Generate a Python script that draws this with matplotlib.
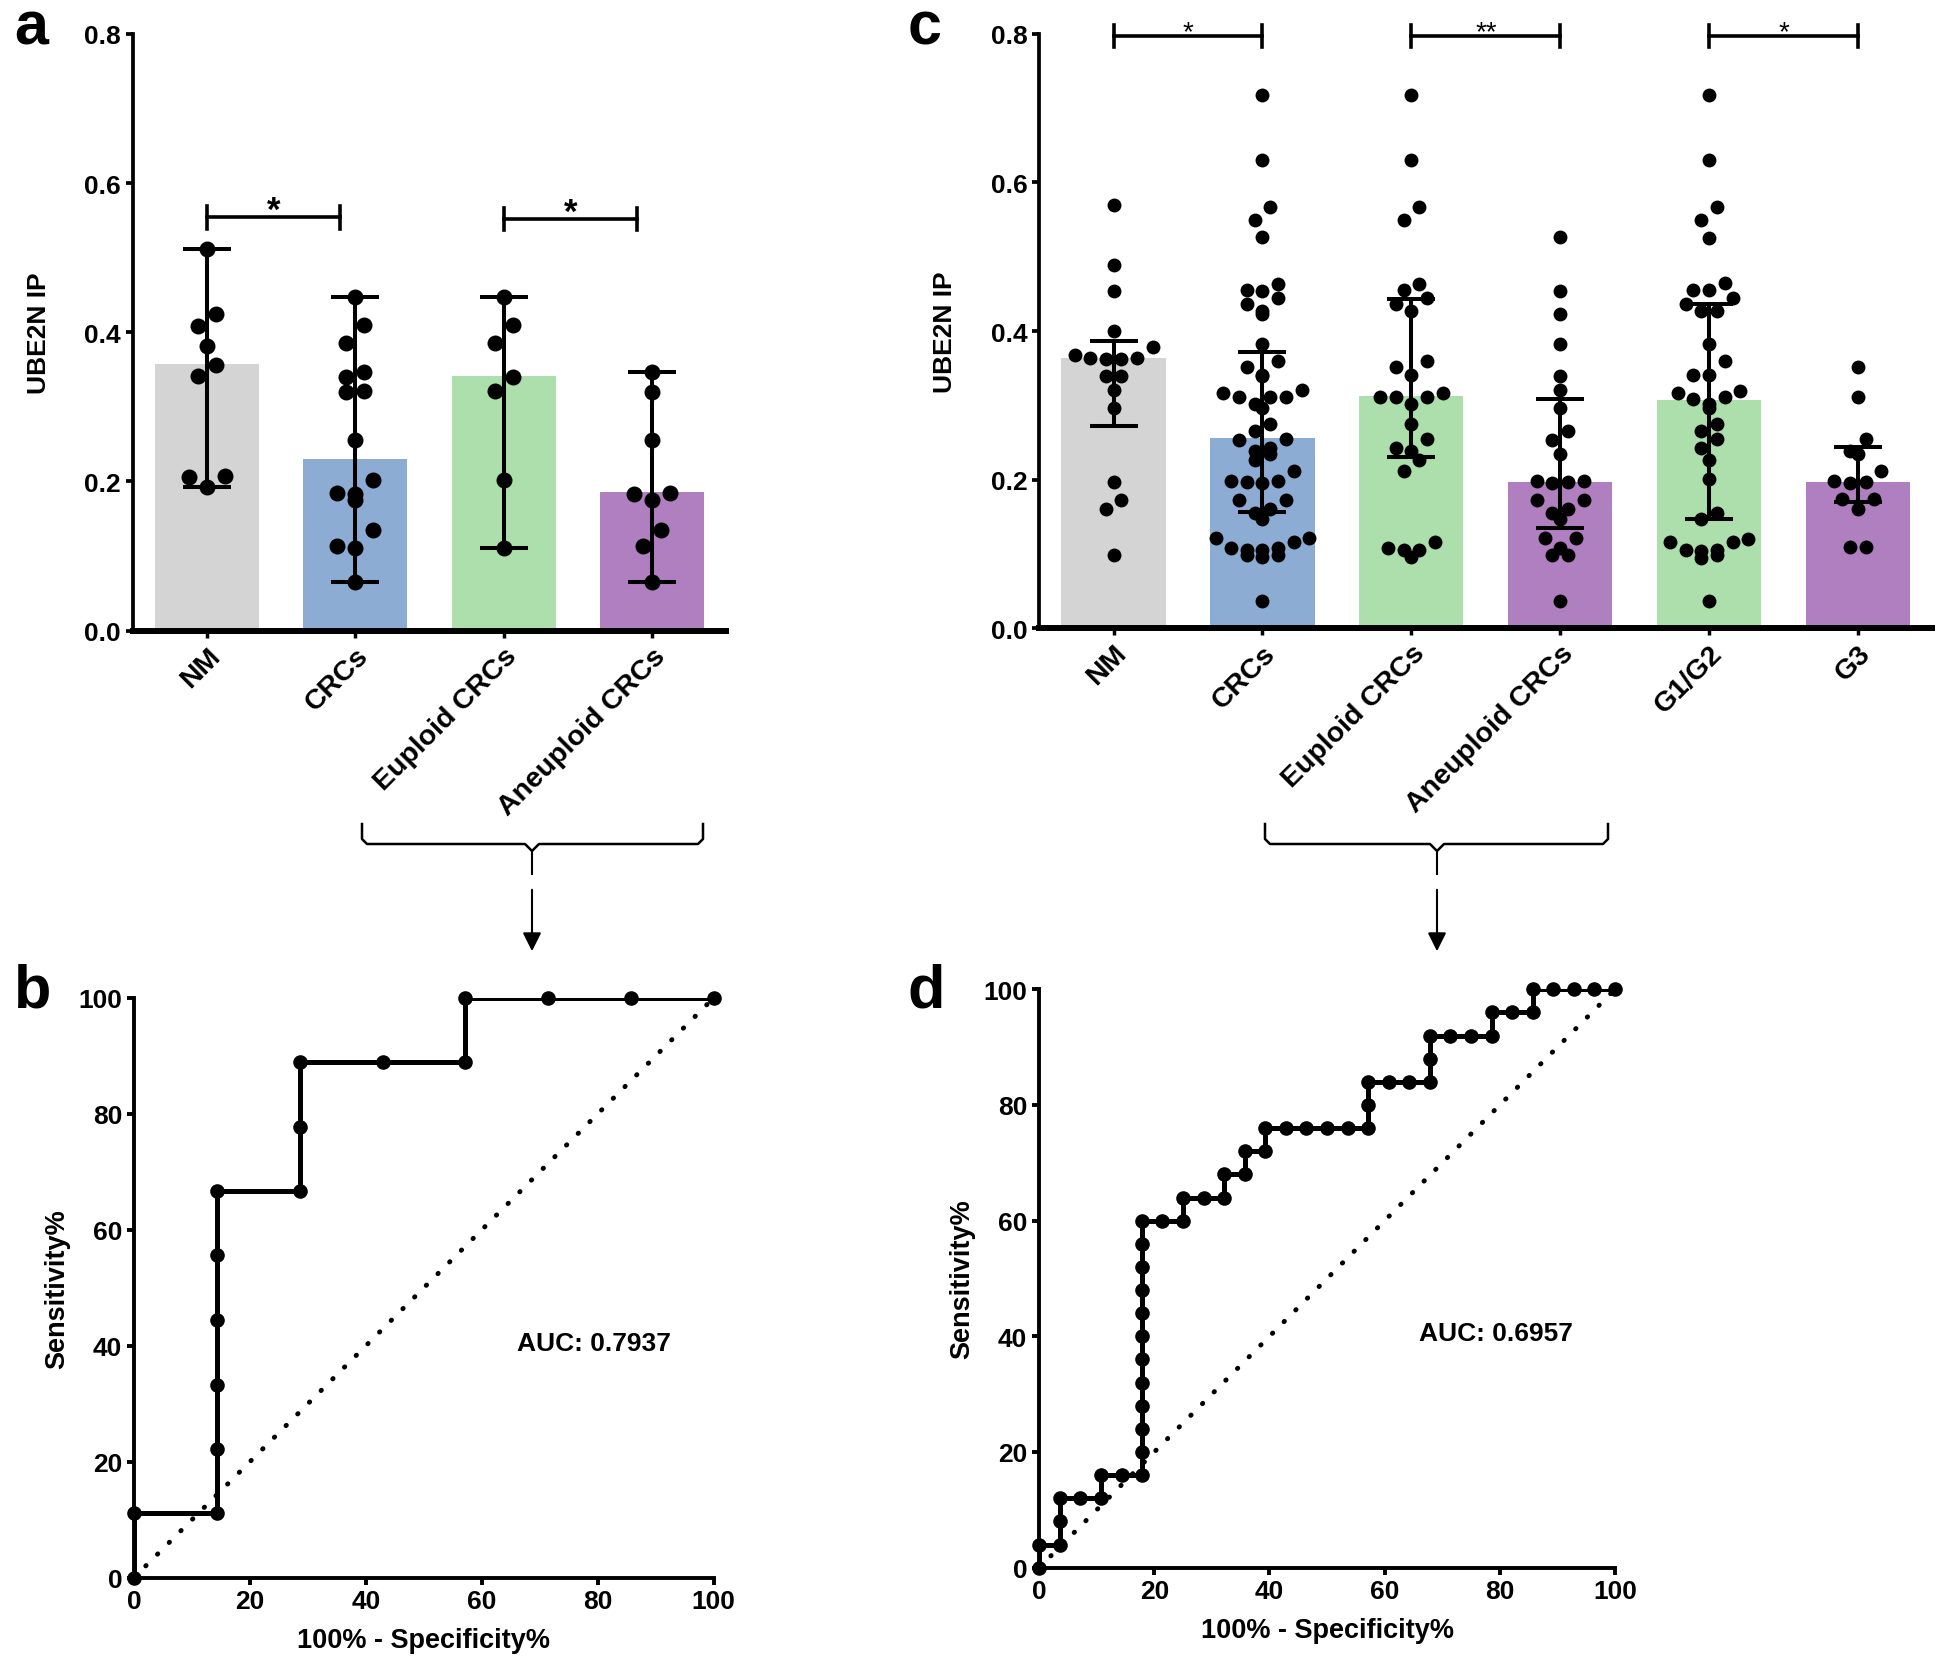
# UBE2N IP scatter/bar panels and ROC curves (a-d)
import numpy as np
import matplotlib
matplotlib.use("Agg")
import matplotlib.pyplot as plt
from matplotlib.lines import Line2D

plt.rcParams['font.family'] = ['Liberation Sans', 'DejaVu Sans']
plt.rcParams['font.weight'] = 'bold'
plt.rcParams['axes.labelweight'] = 'bold'

# ---- panel a data ----
a_groups = ["NM", "CRCs", "Euploid CRCs", "Aneuploid CRCs"]
a_nm = [0.511, 0.425, 0.408, 0.382, 0.356, 0.342, 0.208, 0.206, 0.192]
a_euploid = [0.447, 0.410, 0.386, 0.340, 0.321, 0.202, 0.111]
a_aneuploid = [0.347, 0.320, 0.256, 0.185, 0.183, 0.175, 0.135, 0.113, 0.065]
a_bar = [0.357, 0.230, 0.341, 0.186]
a_err_lo = [0.192, 0.065, 0.111, 0.065]
a_err_hi = [0.511, 0.447, 0.447, 0.347]
a_sig = [(0, 0.9, 0.554, "*"), (2, 2.9, 0.552, "*")]

# ---- panel c data ----
c_groups = ["NM", "CRCs", "Euploid CRCs", "Aneuploid CRCs", "G1/G2", "G3"]
c_nm = [0.569, 0.489, 0.454, 0.400, 0.379, 0.368, 0.364, 0.364, 0.363, 0.363,
        0.340, 0.340, 0.320, 0.297, 0.197, 0.173, 0.160, 0.099]
c_euploid = [0.717, 0.630, 0.567, 0.549, 0.463, 0.455, 0.444, 0.436, 0.427,
             0.360, 0.351, 0.341, 0.316, 0.311, 0.311, 0.311, 0.302, 0.275,
             0.255, 0.243, 0.239, 0.226, 0.211, 0.116, 0.108, 0.105, 0.105, 0.096]
c_aneuploid = [0.526, 0.454, 0.423, 0.383, 0.339, 0.320, 0.297, 0.266, 0.253,
               0.235, 0.198, 0.198, 0.197, 0.196, 0.173, 0.173, 0.160, 0.155,
               0.147, 0.122, 0.122, 0.108, 0.099, 0.099, 0.036]
c_g1g2 = [0.717, 0.630, 0.567, 0.549, 0.525, 0.464, 0.455, 0.455, 0.444, 0.436,
          0.427, 0.427, 0.383, 0.360, 0.341, 0.341, 0.319, 0.317, 0.311, 0.308,
          0.302, 0.297, 0.275, 0.266, 0.255, 0.243, 0.226, 0.201, 0.155, 0.147,
          0.120, 0.116, 0.116, 0.105, 0.105, 0.104, 0.099, 0.095, 0.036]
c_g3 = [0.352, 0.311, 0.255, 0.239, 0.235, 0.211, 0.198, 0.197, 0.196, 0.174,
        0.174, 0.160, 0.109, 0.109]
c_bar = [0.3635, 0.2565, 0.3126, 0.197, 0.3075, 0.197]
c_err_lo = [0.272, 0.157, 0.2305, 0.135, 0.1467, 0.170]
c_err_hi = [0.386, 0.372, 0.4428, 0.3086, 0.436, 0.2435]
c_sig = [(0, 1, 0.797, "*"), (2, 3, 0.797, "**"), (4, 5, 0.797, "*")]

# ---- ROC data ----
b_fpr = [0, 0, 14.3, 14.3, 14.3, 14.3, 14.3, 14.3, 28.6, 28.6, 28.6, 42.9,
         57.1, 57.1, 71.4, 85.7, 100]
b_tpr = [0, 11.1, 11.1, 22.2, 33.3, 44.4, 55.6, 66.7, 66.7, 77.8, 88.9, 88.9,
         88.9, 100, 100, 100, 100]
b_auc = "AUC: 0.7937"

d_fpr = [0, 0, 3.6, 3.6, 3.6, 7.1, 10.7, 10.7, 14.3, 17.9, 17.9, 17.9, 17.9,
         17.9, 17.9, 17.9, 17.9, 17.9, 17.9, 17.9, 17.9, 21.4, 25.0, 25.0,
         28.6, 32.1, 32.1, 35.7, 35.7, 39.3, 39.3, 42.9, 46.4, 50.0, 53.6,
         57.1, 57.1, 57.1, 60.7, 64.3, 67.9, 67.9, 67.9, 71.4, 75.0, 78.6,
         78.6, 82.1, 85.7, 85.7, 89.3, 92.9, 96.4, 100]
d_tpr = [0, 4, 4, 8, 12, 12, 12, 16, 16, 16, 20, 24, 28, 32, 36, 40, 44, 48,
         52, 56, 60, 60, 60, 64, 64, 64, 68, 68, 72, 72, 76, 76, 76, 76, 76,
         76, 80, 84, 84, 84, 84, 88, 92, 92, 92, 92, 96, 96, 96, 100, 100,
         100, 100, 100]
d_auc = "AUC: 0.6957"

colors = {"NM": "#d4d4d4", "CRCs": "#8cacd4", "Euploid CRCs": "#acdfac",
          "Aneuploid CRCs": "#af7fbf", "G1/G2": "#acdfac", "G3": "#af7fbf"}


def swarm(vals, row_h, step):
    "GraphPad-like row layout: near-equal values share a row, spread symmetrically"
    vals = np.asarray(vals)
    order = np.argsort(-vals, kind="stable")
    rows, cur = [], [order[0]]
    for i in order[1:]:
        if vals[cur[0]] - vals[i] < row_h:
            cur.append(i)
        else:
            rows.append(cur)
            cur = [i]
    rows.append(cur)
    offs = np.zeros(len(vals))
    for row in rows:
        n = len(row)
        slots = sorted([k - (n - 1) / 2 for k in range(n)], key=lambda s: (abs(s), s))
        for i, s in zip(sorted(row, key=lambda j: vals[j]), slots):
            offs[i] = s * step
    return offs


def dotbar(ax, groups, data, bar, lo, hi, sig, ms, row_h, step, sig_fs, sig_w):
    x = np.arange(len(groups))
    ax.bar(x, bar, width=0.7, color=[colors[g] for g in groups], zorder=1)
    for i, vals in enumerate(data):
        ax.plot(i + swarm(vals, row_h, step), vals, 'o', color='k', ms=ms,
                mec='none', zorder=3, clip_on=False)
    bar = np.array(bar)
    ax.errorbar(x, bar, yerr=[bar - np.array(lo), np.array(hi) - bar], fmt='none',
                ecolor='k', elinewidth=2.9, capsize=17.5, capthick=2.9, zorder=4)
    for x0, x1, y, s in sig:
        ax.plot([x0, x1], [y, y], color='k', lw=2.6, clip_on=False, zorder=5)
        for xe in (x0, x1):
            ax.plot([xe, xe], [y - 0.015, y + 0.015], color='k', lw=2.6,
                    clip_on=False, zorder=5)
        ax.text((x0 + x1) / 2, y - 0.004, s, ha='center', va='baseline',
                fontsize=sig_fs, fontweight=sig_w, zorder=5)
    ax.set_xlim(-0.5, len(groups) - 0.5)
    ax.set_ylim(0, 0.8)
    ax.set_yticks([0.0, 0.2, 0.4, 0.6, 0.8])
    ax.set_yticklabels(["%.1f" % v for v in [0.0, 0.2, 0.4, 0.6, 0.8]])
    ax.set_xticks(x)
    ax.set_xticklabels(groups, rotation=45, ha='right', va='top',
                       rotation_mode='anchor', fontsize=20.5)
    ax.spines['right'].set_visible(False)
    ax.spines['top'].set_visible(False)
    ax.spines['left'].set_linewidth(2.7)
    ax.spines['bottom'].set_linewidth(4.3)
    ax.tick_params(axis='y', labelsize=19, length=5, width=2.7)
    ax.tick_params(axis='x', length=5, width=2.5)
    ax.set_ylabel("UBE2N IP", fontsize=19, labelpad=24)


def roc(ax, fpr, tpr, auc):
    ax.plot([0, 100], [0, 100], color='k', lw=3.5, ls=(0, (0.1, 3.3)),
            dash_capstyle='round', zorder=2)
    ax.plot(fpr, tpr, color='k', lw=3.6, zorder=3)
    ax.plot(fpr, tpr, 'o', color='k', ms=10.5, mec='none', zorder=4, clip_on=False)
    ax.text(66, 40.5, auc, fontsize=19, ha='left', va='center')
    ax.set_xlim(0, 100)
    ax.set_ylim(0, 100)
    ax.set_xticks(range(0, 101, 20))
    ax.set_yticks(range(0, 101, 20))
    for sp in ('right', 'top'):
        ax.spines[sp].set_visible(False)
    for sp in ('left', 'bottom'):
        ax.spines[sp].set_linewidth(2.8)
    ax.tick_params(labelsize=19, length=5, width=2.8)
    ax.set_xlabel("100% - Specificity%", fontsize=19.5, labelpad=10)
    ax.set_ylabel("Sensitivity%", fontsize=19.5, labelpad=6)


fig = plt.figure(figsize=(19.46, 16.58), dpi=100)

ax_a = fig.add_axes([0.0682, 0.619, 0.305, 0.360])
dotbar(ax_a, a_groups, [a_nm, a_euploid + a_aneuploid, a_euploid, a_aneuploid],
       a_bar, a_err_lo, a_err_hi, a_sig, ms=11.5, row_h=0.025, step=0.12,
       sig_fs=25, sig_w='bold')

ax_c = fig.add_axes([0.534, 0.6205, 0.459, 0.3585])
dotbar(ax_c, c_groups, [c_nm, c_euploid + c_aneuploid, c_euploid, c_aneuploid, c_g1g2, c_g3],
       c_bar, c_err_lo, c_err_hi, c_sig, ms=10, row_h=0.019, step=0.105,
       sig_fs=20, sig_w='normal')

ax_b = fig.add_axes([0.0689, 0.0479, 0.2978, 0.3496])
roc(ax_b, b_fpr, b_tpr, b_auc)

ax_d = fig.add_axes([0.534, 0.0539, 0.2959, 0.3488])
roc(ax_d, d_fpr, d_tpr, d_auc)

# overlay in pixel coordinates for braces, arrows and panel letters
ov = fig.add_axes([0, 0, 1, 1], zorder=-5)
ov.set_xlim(0, 1946)
ov.set_ylim(1658, 0)
ov.axis('off')
for x0, x1, xc in [(362, 703, 532), (1265, 1608, 1437)]:
    yt, yh = 825, 845
    ov.add_line(Line2D([x0, x0, x0 + 5, xc - 7, xc, xc + 7, x1 - 5, x1, x1],
                       [yt, yh - 5, yh, yh, yh + 7, yh, yh, yh - 5, yt],
                       color='k', lw=1.8))
    ov.add_line(Line2D([xc, xc], [yh + 7, 875], color='k', lw=1.5))
    ov.annotate('', xy=(xc, 955), xytext=(xc, 888),
                arrowprops=dict(arrowstyle='-|>', color='k', lw=1.5, mutation_scale=28))

for s, x, y in [("a", 14, 44), ("b", 14, 1008), ("c", 908, 44), ("d", 908, 1008)]:
    ov.text(x, y, s, fontsize=44, fontweight='bold', ha='left', va='baseline')

fig.savefig("out.png", dpi=100)
